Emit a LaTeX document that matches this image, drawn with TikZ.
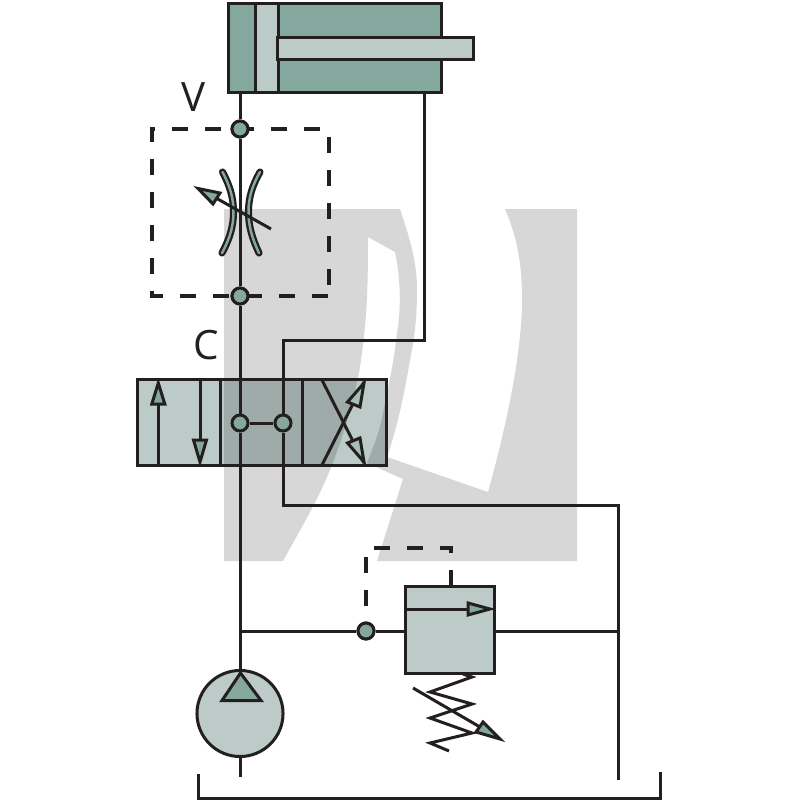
\documentclass[tikz,border=0pt]{standalone}
\usepackage{fontspec}
\setmainfont{Open Sans}
\definecolor{hydline}{HTML}{231F20}
\definecolor{hyddark}{HTML}{84A89E}
\definecolor{hydlight}{HTML}{BCCBC8}
\tikzstyle{line}=[draw=hydline, line width=0.03cm]
\tikzstyle{pilot}=[line, line width=0.033cm, dash pattern=on 0.16cm off 0.17cm]
\tikzstyle{junction}=[circle, line, fill=hyddark, inner sep=0pt, minimum width=0.16cm]
\tikzstyle{body}=[rectangle, line, inner sep=0pt]
\tikzstyle{head}=[line, fill=hyddark]
\tikzstyle{orifice}=[draw=hydline, line width=0.023cm, double=hyddark, double distance=0.025cm, line cap=round]
\tikzstyle{letter}=[inner sep=0pt, text=hydline, font=\fontsize{11.5}{14}\selectfont]

\begin{document}
\begin{tikzpicture}[x=0.01cm,y=-0.01cm]
		\useasboundingbox (0,0) rectangle (800,800);
		\fill[hydlight] (138,380) rectangle (386,465);
		\fill[black,opacity=0.157] (224,209) -- (400,209)
			.. controls (412,245) and (417,265) .. (417,290) .. controls (417,320) and (414,340) .. (410,360)
			.. controls (405,390) and (398,425) .. (387,457)
			-- (488,492) .. controls (508,420) and (522,350) .. (522,300) .. controls (522,260) and (516,235) .. (505,209)
			-- (577,209) -- (577,561) -- (377,561) -- (403,479) -- (367,463)
			.. controls (376,440) and (380,430) .. (383,413) .. controls (389,385) and (394,360) .. (397,333)
			.. controls (401,310) and (401,280) .. (395,252) -- (368,237)
			.. controls (368,290) and (367,320) .. (360,367) .. controls (353,405) and (342,440) .. (330,470)
			.. controls (318,500) and (300,530) .. (283,561) -- (224,561) -- cycle;

		\node[body, fill=hyddark, minimum width=2.12cm, minimum height=0.88cm] (cylinder) at (335,48) {};
		\node[body, fill=hydlight, minimum width=0.22cm, minimum height=0.88cm] (piston) at (267,48) {};
		\node[body, fill=hydlight, minimum width=1.95cm, minimum height=0.21cm] (rod) at (375.5,48.5) {};

		\node[body, minimum width=2.48cm, minimum height=0.85cm] (valve) at (262,422.5) {};
		\draw[line] (220.5,380) -- (220.5,465);
		\draw[line] (302.5,380) -- (302.5,465);

		\node[body, fill=hydlight, minimum width=0.88cm, minimum height=0.86cm] (relief) at (450,630) {};
		\node[circle, line, fill=hydlight, inner sep=0pt, minimum width=0.86cm] (pump) at (240,713.5) {};

		\node[junction] (juncV) at (240,129) {};
		\node[junction] (juncT) at (240,296) {};
		\node[junction] (juncP) at (240,423) {};
		\node[junction] (juncA) at (283,423) {};
		\node[junction] (juncR) at (366,631) {};
		\node[letter] (labelV) at (194,97) {V};
		\node[letter] (labelC) at (206,345) {C};

		\coordinate (portL) at (240,92);
		\coordinate (portR) at (424,92);
		\coordinate (bendA) at (424,340);
		\coordinate (bendB) at (283,340);
		\coordinate (bendC) at (283,505);
		\coordinate (bendD) at (618,505);
		\coordinate (tee) at (240,631);
		\coordinate (teeR) at (618,631);
		\coordinate (drainR) at (618,780);
		\coordinate (pumpTop) at (240,673);
		\coordinate (drainP) at (240,777);
		\coordinate (tankA) at (198,774);
		\coordinate (tankB) at (198,798);
		\coordinate (tankC) at (660,798);
		\coordinate (tankD) at (660,772);

		\draw[line] (portL) -- (juncV);
		\draw[line] (juncV) -- (juncT);
		\draw[line] (juncT) -- (juncP);
		\draw[line] (juncP) -- (pumpTop);
		\draw[line] (juncP) -- (juncA);
		\draw[line] (portR) -- (bendA) -- (bendB) -- (juncA);
		\draw[line] (juncA) -- (bendC) -- (bendD) -- (drainR);
		\draw[line] (tee) -- (juncR);
		\draw[line] (juncR) -- (relief.west |- juncR);
		\draw[line] (relief.east |- juncR) -- (teeR);
		\draw[line] (pump.south) -- (drainP);
		\draw[line] (tankA) -- (tankB) -- (tankC) -- (tankD);

		\coordinate (boxA) at (328,296);
		\coordinate (boxB) at (152,296);
		\coordinate (boxC) at (152,129);
		\coordinate (boxD) at (329,129);
		\coordinate (boxE) at (329,296);
		\draw[pilot] (boxA) -- (boxB) -- (boxC) -- (boxD) -- (boxE);
		\coordinate (pilotA) at (451,586);
		\coordinate (pilotB) at (451,548);
		\coordinate (pilotC) at (366,548);
		\draw[pilot] (pilotA) -- (pilotB) -- (pilotC) -- (juncR);
		\node[junction] at (juncV) {};
		\node[junction] at (juncT) {};
		\node[junction] at (juncR) {};

		\draw[orifice] (222.5,172) .. controls (230,186) and (233.5,198) .. (233.5,212) .. controls (233.5,226) and (230,238) .. (222,253);
		\draw[orifice] (260,172) .. controls (252,186) and (248.5,198) .. (248.5,212) .. controls (248.5,226) and (252,238) .. (259,253);
		\draw[line] (271,229) -- (216,198);
		\draw[head] (198,188.5) -- (220,193) -- (213,204) -- cycle;

		\draw[line] (158.3,465) -- (158.3,404);
		\draw[head] (158.3,383) -- (164.8,404) -- (151.8,404) -- cycle;
		\draw[line] (200,380) -- (200,440);
		\draw[head] (200,462) -- (206.5,440) -- (193.5,440) -- cycle;
		\draw[line] (322,380) -- (364,463);
		\draw[line] (322,465) -- (364,382);
		\draw[head, fill=hydlight!60!hyddark] (364,383) -- (360,407) -- (347.5,402) -- cycle;
		\draw[head, fill=hydlight!60!hyddark] (364,462) -- (360,438) -- (347.5,443) -- cycle;

		\draw[line] (406,609) -- (468,609);
		\draw[head] (490,609) -- (468,603) -- (468,615) -- cycle;
		\draw[line] (463,674) -- (472,677) -- (430,692) -- (472,704) -- (430,718) -- (472,733) -- (430,743) -- (449,751);
		\draw[line] (413,688) -- (480,727);
		\draw[head] (500,739) -- (476,732) -- (483,722) -- cycle;

		\draw[head] (240.5,673) -- (261,700.5) -- (222,700.5) -- cycle;
		\end{tikzpicture}
\end{document}
